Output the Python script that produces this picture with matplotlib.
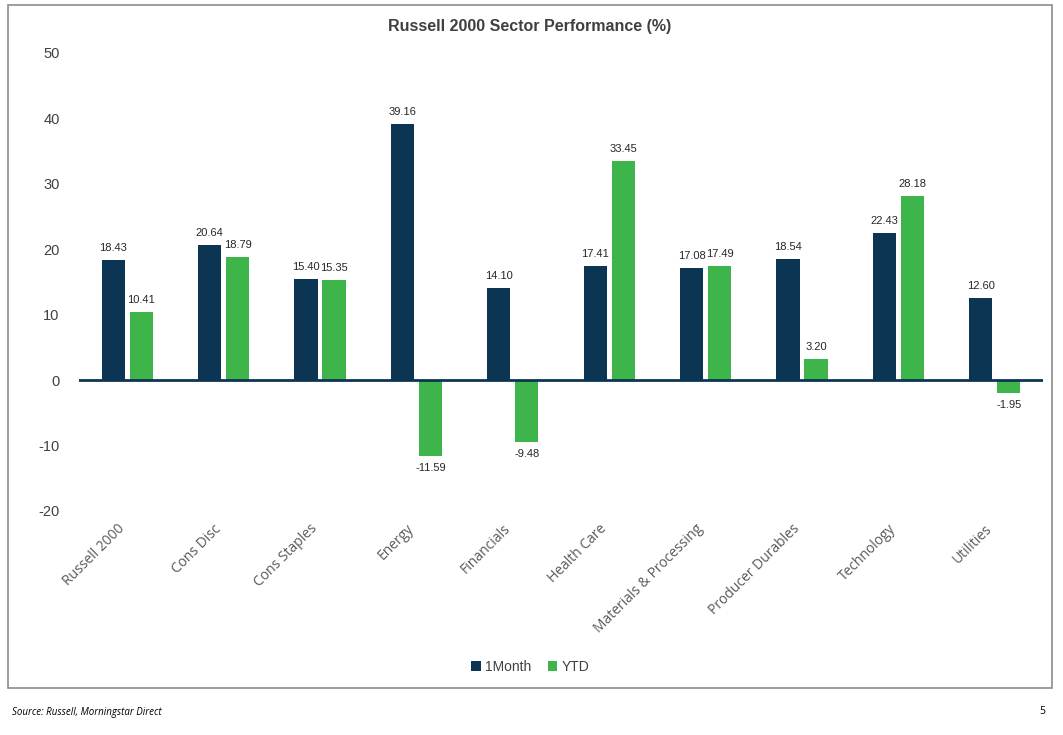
import matplotlib
matplotlib.use("Agg")
import matplotlib.pyplot as plt
from matplotlib.patches import Rectangle
from matplotlib.transforms import ScaledTranslation
import numpy as np

categories = ["Russell 2000", "Cons Disc", "Cons Staples", "Energy", "Financials",
              "Health Care", "Materials & Processing", "Producer Durables",
              "Technology", "Utilities"]
one_month = [18.43, 20.64, 15.40, 39.16, 14.10, 17.41, 17.08, 18.54, 22.43, 12.60]
ytd = [10.41, 18.79, 15.35, -11.59, -9.48, 33.45, 17.49, 3.20, 28.18, -1.95]
yticks = [-20, -10, 0, 10, 20, 30, 40, 50]

navy = "#0B3553"
green = "#3DB54A"

fig = plt.figure(figsize=(10.63, 7.35), dpi=100)
ax = fig.add_axes([79/1063, 1-511/735, 964/1063, 458/735])

x = np.arange(len(categories))
w = 0.24
off = 0.145
b1 = ax.bar(x - off, one_month, w, color=navy, label="1Month")
b2 = ax.bar(x + off, ytd, w, color=green, label="YTD")

for bars, vals in ((b1, one_month), (b2, ytd)):
    for r, v in zip(bars, vals):
        cx = r.get_x() + r.get_width()/2
        if v >= 0:
            ax.annotate(f"{v:.2f}", (cx, v), xytext=(0, 5), textcoords="offset points",
                        ha="center", va="bottom", fontsize=8, color="#262626",
                        family="Liberation Sans")
        else:
            ax.annotate(f"{v:.2f}", (cx, v), xytext=(0, -5), textcoords="offset points",
                        ha="center", va="top", fontsize=8, color="#262626",
                        family="Liberation Sans")

ax.axhline(0, color=navy, lw=2, zorder=3)
ax.set_xlim(-0.5, len(categories) - 0.5)
ax.set_ylim(-20, 50)
ax.set_yticks(yticks)
ax.set_yticklabels([str(t) for t in yticks], fontsize=10.5, color="#404040",
                   family="Liberation Sans")
ax.tick_params(axis="y", length=0, pad=14)
ax.tick_params(axis="x", length=0, pad=4)
ax.set_xticks(x)
ax.set_xticklabels(categories, rotation=45, ha="right", rotation_mode="anchor",
                   fontsize=10, color="#595959", family="Open Sans")
shift = ScaledTranslation(-10/100, -5/100, fig.dpi_scale_trans)
for lbl in ax.get_xticklabels():
    lbl.set_transform(lbl.get_transform() + shift)
for s in ax.spines.values():
    s.set_visible(False)

fig.text(530/1063, 1-26/735, "Russell 2000 Sector Performance (%)", ha="center", va="center",
         fontsize=11.5, fontweight="bold", color="#404040", family="Liberation Sans")

leg = fig.legend(handles=[b1, b2], loc="center", bbox_to_anchor=(530/1063, 1-667/735),
                 ncol=2, frameon=False, handlelength=0.7, handleheight=0.7,
                 handletextpad=0.3, columnspacing=1.2, prop={"family": "Liberation Sans", "size": 10})
for t in leg.get_texts():
    t.set_color("#404040")

fig.patches.append(Rectangle((8/1063, 1-688/735), (1052-8)/1063, (688-5)/735,
                             transform=fig.transFigure, fill=False, edgecolor="#8C8C8C", lw=1.2))

fig.text(12/1063, 1-712/735, "Source: Russell, Morningstar Direct", ha="left", va="center",
         fontsize=7, style="italic", color="#000000", family="Open Sans")
fig.text(1045/1063, 1-712/735, "5", ha="right", va="center", fontsize=7.5, color="#000000",
         family="Open Sans")

fig.savefig("out.png", dpi=100, facecolor="white")
